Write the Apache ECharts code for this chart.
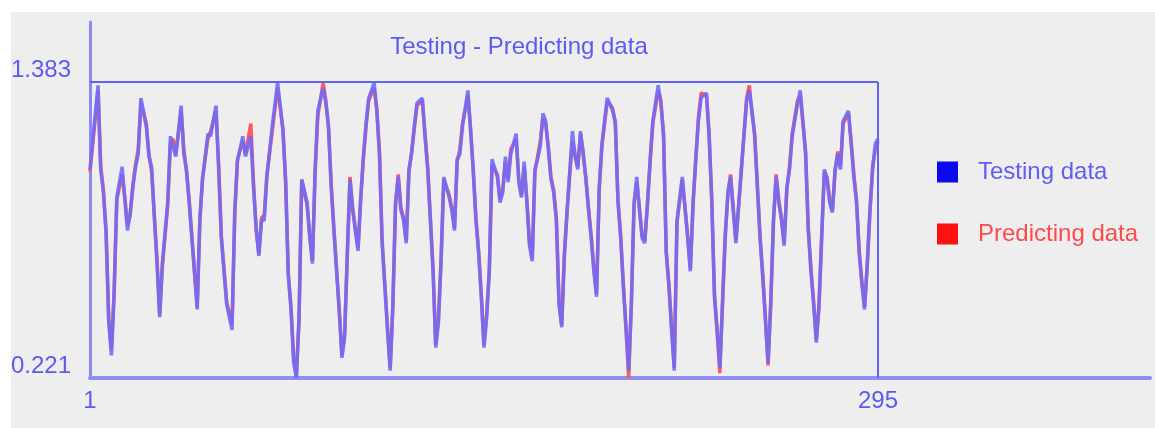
<!DOCTYPE html>
<html>
<head>
<meta charset="utf-8">
<script src="https://cdn.jsdelivr.net/npm/echarts@6/dist/echarts.min.js"></script>
<style>
html,body{margin:0;padding:0;background:#ffffff;}
#bg{position:absolute;left:11px;top:12px;width:1144px;height:416px;background:#eeeeee;}
#chart{position:absolute;left:0;top:0;width:1155px;height:428px;}
</style>
</head>
<body>
<div id="bg"></div>
<div id="chart"></div>
<script>
const titleText = 'Testing - Predicting data';
const seriesNames = ['Testing data', 'Predicting data'];
const yTickLabels = [0.221, 1.383];
const xTickLabels = [1, 295];

const sampleIdx = [
1,4,5,6,7,8,9,10,11,13,14,15,16,17,18,19,20,22,23,24,25,26,27,28,30,31,32,33,35,36,37,38,39,40,41,42,43,45,46,48,49,50,51,52,54,55,56,58,59,61,62,63,64,65,66,67,69,71,73,74,75,76,77,78,79,80,82,83,84,85,86,88,89,90,91,92,93,94,95,96,97,98,99,100,101,102,103,104,105,107,108,109,110,111,112,113,114,115,116,117,118,119,120,121,122,123,125,126,127,128,129,130,131,132,133,135,136,137,138,139,140,142,143,144,145,146,147,148,149,150,151,153,154,155,156,157,158,160,161,162,163,164,165,166,167,168,169,170,171,172,173,174,175,176,177,178,179,180,181,182,183,184,185,186,187,188,189,190,191,192,193,194,196,197,198,199,200,201,202,203,204,205,206,207,208,209,210,211,213,214,215,216,217,218,219,220,222,224,225,226,227,228,229,231,232,233,234,235,236,237,238,239,240,241,242,244,245,246,247,248,249,250,251,252,253,254,255,256,257,258,259,260,261,262,263,265,266,267,268,269,270,271,272,273,274,275,276,277,278,279,280,281,282,284,285,286,287,288,289,290,291,292,293,294,295
];

const testingValues = [
1.04,1.37,1.04,0.95,0.79,0.44,0.31,0.55,0.93,1.05,0.92,0.80,0.87,0.97,1.05,1.10,1.32,1.21,1.09,1.05,0.85,0.67,0.46,0.67,0.91,1.17,1.13,1.09,1.29,1.10,1.04,0.91,0.77,0.64,0.49,0.85,1.00,1.18,1.17,1.29,1.04,0.77,0.64,0.51,0.41,0.87,1.07,1.17,1.09,1.17,0.97,0.81,0.70,0.84,0.84,1.01,1.21,1.38,1.19,1.00,0.62,0.49,0.28,0.22,0.46,1.00,0.91,0.77,0.67,1.04,1.27,1.36,1.30,1.21,0.97,0.80,0.64,0.49,0.30,0.38,0.71,1.00,0.88,0.80,0.72,0.93,1.09,1.22,1.32,1.38,1.27,1.10,0.75,0.58,0.41,0.25,0.51,0.91,1.01,0.88,0.84,0.75,1.04,1.10,1.21,1.30,1.32,1.17,1.04,0.84,0.64,0.34,0.44,0.68,1.01,0.93,0.88,0.80,1.08,1.10,1.21,1.35,1.19,1.04,0.84,0.71,0.54,0.34,0.46,0.64,1.08,1.01,0.91,0.95,1.09,0.99,1.10,1.18,0.99,0.93,1.07,0.91,0.74,0.68,1.04,1.08,1.13,1.26,1.23,1.12,1.00,0.95,0.84,0.51,0.42,0.70,0.87,1.03,1.19,1.09,1.04,1.19,1.10,1.01,0.88,0.77,0.64,0.54,0.97,1.14,1.23,1.32,1.27,1.23,0.91,0.77,0.58,0.42,0.25,0.51,0.91,1.01,0.88,0.77,0.75,0.91,1.08,1.23,1.37,1.30,1.17,0.71,0.58,0.41,0.25,0.84,1.01,0.77,0.64,0.91,1.08,1.23,1.32,1.34,1.17,0.91,0.54,0.41,0.26,0.51,0.77,0.95,1.01,0.88,0.75,1.04,1.17,1.31,1.35,1.27,1.17,0.97,0.77,0.62,0.45,0.28,0.51,0.84,1.01,0.91,0.84,0.74,0.97,1.04,1.17,1.30,1.35,1.23,1.10,0.80,0.64,0.51,0.36,0.51,0.77,1.04,1.00,0.91,0.87,1.04,1.10,1.04,1.23,1.27,1.14,1.01,0.91,0.71,0.59,0.49,0.67,0.88,1.04,1.14,1.16
];

const predictingValues = [
1.03,1.35,1.05,0.96,0.80,0.45,0.33,0.56,0.92,1.02,0.93,0.82,0.86,0.98,1.06,1.12,1.30,1.22,1.10,1.03,0.86,0.69,0.47,0.66,0.90,1.14,1.16,1.10,1.27,1.12,1.03,0.92,0.78,0.63,0.50,0.84,1.01,1.16,1.19,1.27,1.06,0.78,0.65,0.52,0.43,0.86,1.08,1.15,1.10,1.22,0.99,0.80,0.71,0.85,0.86,1.02,1.19,1.36,1.20,0.98,0.63,0.50,0.30,0.23,0.45,1.00,0.90,0.78,0.68,1.03,1.25,1.38,1.31,1.20,0.98,0.81,0.65,0.48,0.31,0.39,0.70,1.01,0.89,0.81,0.73,0.92,1.08,1.21,1.31,1.36,1.28,1.11,0.76,0.59,0.42,0.26,0.50,0.90,1.02,0.89,0.85,0.76,1.03,1.11,1.20,1.29,1.31,1.18,1.05,0.85,0.65,0.35,0.45,0.69,1.00,0.94,0.89,0.81,1.07,1.12,1.22,1.33,1.20,1.03,0.85,0.72,0.55,0.35,0.47,0.65,1.06,1.02,0.92,0.96,1.07,1.00,1.12,1.16,1.00,0.94,1.05,0.92,0.75,0.69,1.03,1.09,1.15,1.24,1.22,1.13,1.01,0.96,0.85,0.52,0.43,0.71,0.88,1.02,1.15,1.10,1.05,1.18,1.11,1.00,0.89,0.78,0.65,0.55,0.96,1.13,1.22,1.31,1.28,1.22,0.92,0.78,0.59,0.41,0.22,0.52,0.90,0.99,0.89,0.78,0.76,0.90,1.07,1.22,1.35,1.31,1.18,0.72,0.59,0.42,0.26,0.83,1.00,0.78,0.65,0.90,1.07,1.24,1.34,1.33,1.18,0.92,0.55,0.40,0.24,0.52,0.78,0.94,1.02,0.89,0.76,1.03,1.18,1.32,1.37,1.26,1.18,0.98,0.78,0.63,0.46,0.27,0.52,0.83,1.02,0.92,0.85,0.75,0.96,1.05,1.18,1.31,1.33,1.22,1.11,0.81,0.65,0.52,0.37,0.50,0.78,1.03,1.01,0.92,0.88,1.03,1.11,1.05,1.22,1.26,1.15,1.02,0.92,0.72,0.60,0.50,0.66,0.87,1.05,1.12,1.15
];

const testingData = sampleIdx.map((d, k) => [d, testingValues[k]]);
const predictingData = sampleIdx.map((d, k) => [d, predictingValues[k]]);

const chart = echarts.init(document.getElementById('chart'), null, {renderer: 'canvas'});
const font = "'Liberation Sans', Arial, sans-serif";
const option = {
  animation: false,
  backgroundColor: 'transparent',
  title: {
    text: titleText,
    left: 514,
    top: 30,
    textAlign: 'center',
    textStyle: {color: '#5b5bf2', fontSize: 24, fontWeight: 'normal', fontFamily: font}
  },
  legend: {
    orient: 'vertical',
    left: 937,
    top: 160,
    padding: 0,
    itemWidth: 21,
    itemHeight: 21,
    itemGap: 38,
    icon: 'rect',
    data: [
      {name: seriesNames[0], itemStyle: {color: '#0a0af0'}, textStyle: {color: '#5e5ef2'}},
      {name: seriesNames[1], itemStyle: {color: '#ff1010'}, textStyle: {color: '#ff4a4a'}}
    ],
    textStyle: {fontSize: 24, fontFamily: font, padding: [0, 0, 0, 15]}
  },
  grid: {left: 90, right: 5, top: 22, bottom: 50},
  xAxis: {
    type: 'value',
    min: 1,
    max: 396.5,
    axisLine: {show: true, lineStyle: {color: '#8e8ef5', width: 4}},
    axisTick: {show: false},
    splitLine: {show: false},
    axisLabel: {
      customValues: xTickLabels,
      margin: 11,
      color: '#5b5bf2',
      fontSize: 24,
      fontFamily: font
    }
  },
  yAxis: {
    type: 'value',
    min: 0.221,
    max: 1.6185,
    axisLine: {show: true, lineStyle: {color: '#8a8af5', width: 3}},
    axisTick: {show: false},
    splitLine: {show: false},
    axisLabel: {
      customValues: yTickLabels,
      margin: 19,
      verticalAlign: 'bottom',
      color: '#5b5bf2',
      fontSize: 24,
      fontFamily: font,
      formatter: v => v.toFixed(3)
    }
  },
  series: [
    {
      name: seriesNames[1],
      type: 'line',
      data: predictingData,
      showSymbol: false,
      color: '#ff1010',
      lineStyle: {color: '#ff5a5a', width: 3.5},
      z: 2
    },
    {
      name: seriesNames[0],
      type: 'line',
      data: testingData,
      showSymbol: false,
      color: '#0a0af0',
      lineStyle: {color: '#6a6aff', width: 3.5, opacity: 0.88},
      z: 3,
      markLine: {
        silent: true,
        symbol: 'none',
        label: {show: false},
        lineStyle: {color: '#6262f0', width: 2, type: 'solid'},
        data: [
          [{coord: [xTickLabels[0], yTickLabels[1]]}, {coord: [xTickLabels[1], yTickLabels[1]]}],
          [{coord: [xTickLabels[1], yTickLabels[0]]}, {coord: [xTickLabels[1], yTickLabels[1]]}]
        ]
      }
    }
  ]
};
chart.setOption(option);
</script>
</body>
</html>
